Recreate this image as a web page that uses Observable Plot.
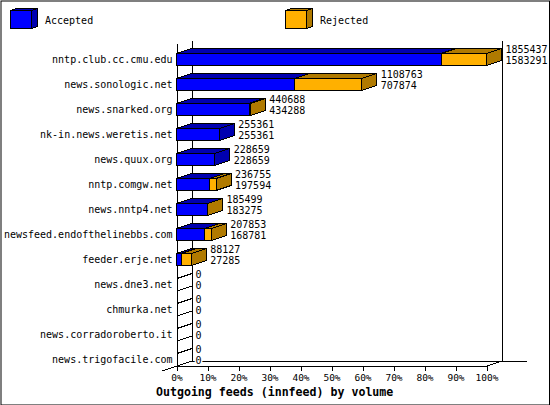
<!DOCTYPE html>
<html>
<head>
<meta charset="utf-8">
<script src="https://cdn.jsdelivr.net/npm/d3@7"></script>
<script src="https://cdn.jsdelivr.net/npm/@observablehq/plot@0.6"></script>
<style>
  html, body { margin: 0; padding: 0; background: #fff; }
  #wrap { position: relative; width: 550px; height: 405px; }
  #wrap svg { position: absolute; left: 0; top: 0; background: transparent; }
</style>
</head>
<body>
<div id="wrap"></div>
<script>
const feeds = ["nntp.club.cc.cmu.edu","news.sonologic.net","news.snarked.org","nk-in.news.weretis.net","news.quux.org","nntp.comgw.net","news.nntp4.net","newsfeed.endofthelinebbs.com","feeder.erje.net","news.dne3.net","chmurka.net","news.corradoroberto.it","news.trigofacile.com"];
const totals = [1855437,1108763,440688,255361,228659,236755,185499,207853,88127,0,0,0,0];
const accepted = [1583291,707874,434288,255361,228659,197594,183275,168781,27285,0,0,0,0];
const percentTicks = [0,10,20,30,40,50,60,70,80,90,100];
const legendNames = ["Accepted","Rejected"];
const colors = {
  Accepted: {front:"#0000ff", shade:"#0000b0"},
  Rejected: {front:"#ffb000", shade:"#b07a00"}
};
const FONT = "'DejaVu Sans Mono', monospace";
const maxTotal = d3.max(totals);
const pct = v => v / maxTotal * 100;
const depthX = 15 / 3.1;   // wall depth in percent units
const depthY = 0.2;        // wall depth in row units
const barH = 0.48;         // bar height in row units

// Three visible faces of a box, as two-point areas.
function box(a, b, top, bottom, dx, dy, c, key) {
  const q = (name, fill, p0, p1) => [p0, p1].map(p => ({z: key + name, fill, x1: p[0], y1: p[1], x2: p[2], y2: p[3]}));
  return [
    ...q("top", c.shade, [a, top, a + dx, top - dy], [b, top, b + dx, top - dy]),
    ...q("side", c.shade, [b, bottom, b + dx, bottom - dy], [b, top, b + dx, top - dy]),
    ...q("front", c.front, [a, bottom, b, bottom], [a, top, b, top])
  ];
}

const faces = [];
feeds.forEach((f, i) => {
  if (totals[i] === 0) return;
  const top = i + 1 - barH, bottom = i + 1;
  faces.push(...box(0, pct(accepted[i]), top, bottom, depthX, depthY, colors.Accepted, i + "a"));
  if (totals[i] > accepted[i]) {
    faces.push(...box(pct(accepted[i]), pct(totals[i]), top, bottom, depthX, depthY, colors.Rejected, i + "r"));
  }
});

const rows = feeds.map((name, i) => ({name, i, total: totals[i], accepted: accepted[i]}));
const hatch = d3.range(1, 27).map(k => k / 2);
const crisp = {stroke: "black", strokeWidth: 1, shapeRendering: "crispEdges"};
const txt = {fontFamily: FONT, fontSize: 10, fill: "black", lineAnchor: "middle"};
const labelX = d => pct(d.total) + depthX + 3.5 / 3.1;
const upper = 0.37, lower = 0.81;

const chart = Plot.plot({
  width: 550, height: 405,
  marginLeft: 0.5, marginRight: 1, marginTop: 0.5, marginBottom: 0.5,
  x: {domain: [0, 100], range: [176.5, 486.5], axis: null},
  y: {domain: [0, 13], range: [40.5, 365.5], axis: null},
  marks: [
    Plot.frame({stroke: "black"}),
    // walls and floor
    Plot.link(hatch, {x1: 0, x2: depthX, y1: d => d, y2: d => d - depthY, ...crisp}),
    Plot.link([0], {x1: 0, x2: 0, y1: 0.12, y2: 13, ...crisp}),
    Plot.link([0], {x1: depthX, x2: depthX, y1: 0, y2: 13 - depthY, ...crisp}),
    Plot.link([0], {x1: 100 + depthX, x2: 100 + depthX, y1: 0, y2: 13 - depthY, ...crisp}),
    Plot.link([0], {x1: depthX, x2: 100 + depthX + 8, y1: 13 - depthY, y2: 13 - depthY, ...crisp}),
    Plot.link([0], {x1: 0, x2: 100, y1: 13, y2: 13, ...crisp}),
    Plot.link([0], {x1: -depthX, x2: 0, y1: 13 + depthY, y2: 13, ...crisp}),
    Plot.link([100], {x1: 100, x2: 100 + depthX, y1: 13, y2: 13 - depthY, ...crisp}),
    Plot.link(percentTicks, {x1: d => d, x2: d => d, y1: 13, y2: 13 + depthY, ...crisp}),
    // bars
    Plot.area(faces, {x1: "x1", y1: "y1", x2: "x2", y2: "y2", z: "z", fill: "fill", ...crisp}),
    // feed names
    Plot.text(rows, {x: 0, y: d => d.i + 0.76, text: "name", textAnchor: "end", dx: -4.5, ...txt}),
    // zero labels mask the walls behind them
    Plot.text(rows.filter(d => d.total > 0), {x: labelX, y: d => d.i + upper, text: d => String(d.total), textAnchor: "start", ...txt}),
    Plot.text(rows.filter(d => d.total > 0), {x: labelX, y: d => d.i + lower, text: d => String(d.accepted), textAnchor: "start", ...txt}),
    Plot.text(rows.filter(d => d.total === 0), {x: labelX, y: d => d.i + upper, text: d => String(d.total), textAnchor: "start", stroke: "white", strokeWidth: 3, paintOrder: "stroke", ...txt}),
    Plot.text(rows.filter(d => d.total === 0), {x: labelX, y: d => d.i + lower, text: d => String(d.accepted), textAnchor: "start", stroke: "white", strokeWidth: 3, paintOrder: "stroke", ...txt}),
    // percent axis and title
    Plot.text(percentTicks, {x: d => d, y: 13.49, text: d => d + "%", textAnchor: "middle", ...txt, fontSize: 9.5}),
    Plot.text(["Outgoing feeds (innfeed) by volume"], {x: 31.5, y: 14.06, text: d => d, textAnchor: "middle", ...txt, fontSize: 11.6, fontWeight: "bold"})
  ]
});

// Legend strip: pixel positions through identity scales.
const legendFaces = [];
legendNames.forEach((n, k) => {
  const left = k === 0 ? 10.5 : 285.5;
  legendFaces.push(...box(left, left + 21, 10.5, 28.5, 6, 2, colors[n], n));
});
const legend = Plot.plot({
  width: 550, height: 36,
  margin: 0,
  x: {type: "identity"},
  y: {type: "identity"},
  marks: [
    Plot.link([35.5], {x1: 0, x2: 549, y1: d => d, y2: d => d, ...crisp}),
    Plot.area(legendFaces, {x1: "x1", y1: "y1", x2: "x2", y2: "y2", z: "z", fill: "fill", ...crisp}),
    Plot.text(legendNames, {x: (d, k) => k === 0 ? 44.5 : 319.5, y: 20, text: d => d, textAnchor: "start", ...txt})
  ]
});

const wrap = document.getElementById("wrap");
wrap.append(chart, legend);
</script>
</body>
</html>
